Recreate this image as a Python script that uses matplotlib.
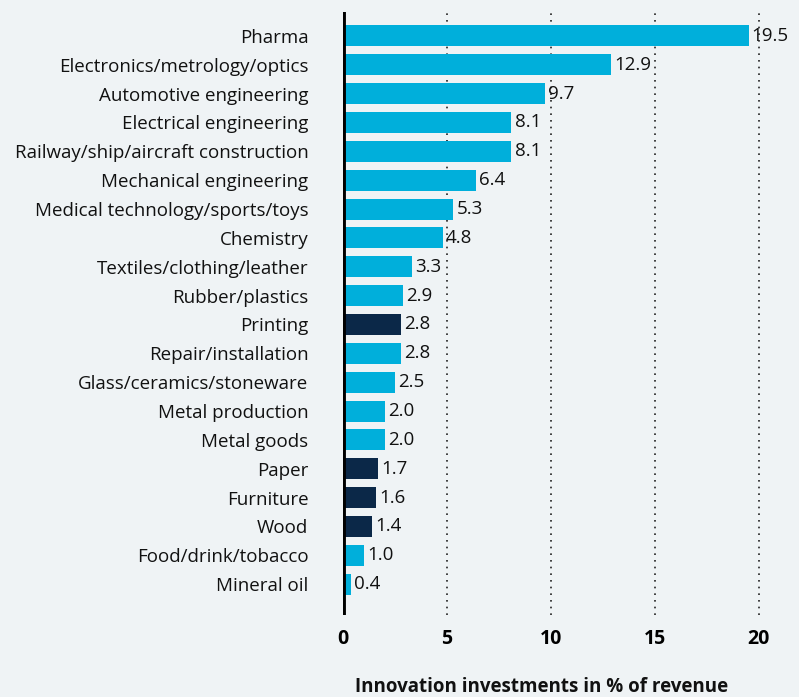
import matplotlib.pyplot as plt

sectors = ["Pharma", "Electronics/metrology/optics", "Automotive engineering",
           "Electrical engineering", "Railway/ship/aircraft construction",
           "Mechanical engineering", "Medical technology/sports/toys", "Chemistry",
           "Textiles/clothing/leather", "Rubber/plastics", "Printing",
           "Repair/installation", "Glass/ceramics/stoneware", "Metal production",
           "Metal goods", "Paper", "Furniture", "Wood", "Food/drink/tobacco",
           "Mineral oil"]
values = [19.5, 12.9, 9.7, 8.1, 8.1, 6.4, 5.3, 4.8, 3.3, 2.9, 2.8, 2.8, 2.5,
          2.0, 2.0, 1.7, 1.6, 1.4, 1.0, 0.4]
highlight = ["Printing", "Paper", "Furniture", "Wood"]
xticks = [0, 5, 10, 15, 20]

light = "#00afdb"
dark = "#0b2848"
bg = "#eff3f5"

plt.rcParams['font.family'] = ['Open Sans', 'DejaVu Sans']

fig = plt.figure(figsize=(7.99, 6.97), dpi=100, facecolor=bg)
ax = fig.add_axes([0.4293, 0.1176, 0.570, 0.8652])
ax.set_facecolor(bg)

colors = [dark if s in highlight else light for s in sectors]
y = list(range(len(sectors)))
ax.barh(y, values, height=0.73, color=colors, zorder=3)

# value labels just right of each bar
for yi, v in zip(y, values):
    ax.text(v + 0.15, yi, f"{v:.1f}", va="center", ha="left",
            fontsize=13.5, color="#111111", zorder=4)

ax.set_xlim(0, 21.9)
ax.set_ylim(len(sectors) - 1 + 1.07, -0.83)
ax.set_yticks(y)
ax.set_yticklabels(sectors, fontsize=13.5, color="#111111")
ax.set_xticks(xticks)
ax.set_xticklabels([str(t) for t in xticks], fontsize=14, fontweight="bold")
ax.tick_params(axis="both", length=0)
ax.tick_params(axis="x", pad=10)
ax.tick_params(axis="y", pad=25)

for t in xticks[1:]:
    ax.axvline(t, color="#222222", linestyle=(0, (1, 3)), linewidth=1.2, zorder=1)
ax.axvline(0, color="black", linewidth=3.5, zorder=5)

for s in ax.spines.values():
    s.set_visible(False)

fig.text(0.678, 0.014, "Innovation investments in % of revenue", fontsize=13.5,
         fontweight="bold", ha="center", va="center", color="#111111")

fig.savefig("out.png", dpi=100, facecolor=bg)
